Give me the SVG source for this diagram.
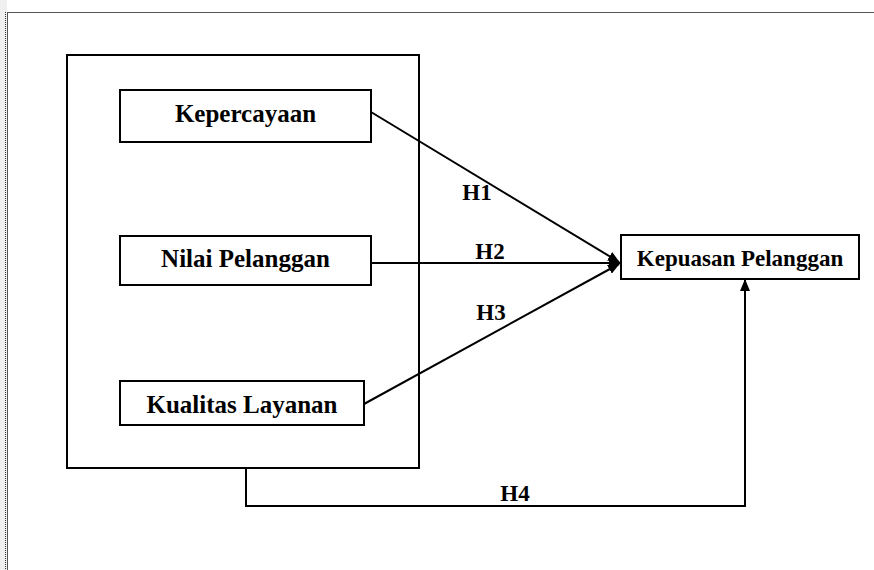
<svg xmlns="http://www.w3.org/2000/svg" width="874" height="570" viewBox="0 0 874 570">
<style>
.box{fill:#fff;stroke:#000;stroke-width:2}
.t{font-family:"Liberation Serif","Times New Roman",serif;font-weight:bold;font-size:23px;fill:#000;text-anchor:middle}
.big{font-size:25px}
.c{fill:none;stroke:#000;stroke-width:2}
</style>
<defs>
<marker id="ah" markerWidth="12" markerHeight="10" refX="11" refY="5" orient="auto" markerUnits="userSpaceOnUse">
<path d="M0,0 L12,5 L0,10 Z" fill="#000"/>
</marker>
</defs>
<rect x="0" y="0" width="874" height="570" fill="#fff"/>
<rect x="0" y="0" width="7" height="570" fill="#f0f0f0"/>
<line x1="5.5" y1="12" x2="5.5" y2="570" stroke="#333" stroke-width="1" stroke-dasharray="1,1"/>
<line x1="7.5" y1="12" x2="7.5" y2="570" stroke="#555" stroke-width="1"/>
<line x1="7" y1="12.5" x2="874" y2="12.5" stroke="#555" stroke-width="1"/>
<g id="outer"><rect class="box" x="67" y="55" width="352" height="413"/></g>
<g id="kepercayaan"><rect class="box" x="120" y="90" width="251" height="52"/><text class="t big" x="245.5" y="122">Kepercayaan</text></g>
<g id="nilai"><rect class="box" x="120" y="236" width="251" height="49"/><text class="t big" x="245.5" y="267">Nilai Pelanggan</text></g>
<g id="kualitas"><rect class="box" x="120" y="381" width="244" height="44"/><text class="t big" x="242" y="413">Kualitas Layanan</text></g>
<g id="kepuasan"><rect class="box" x="621" y="235" width="238" height="44"/><text class="t" x="740" y="266">Kepuasan Pelanggan</text></g>
<g id="connectors">
<line class="c" x1="371" y1="112" x2="619" y2="262" marker-end="url(#ah)"/>
<line class="c" x1="371" y1="263" x2="620" y2="263" marker-end="url(#ah)"/>
<line class="c" x1="364" y1="404" x2="619" y2="264" marker-end="url(#ah)"/>
<polyline class="c" points="246,468 246,506 745,506 745,280" marker-end="url(#ah)"/>
<text class="t" x="477" y="200">H1</text>
<text class="t" x="490" y="259">H2</text>
<text class="t" x="491" y="320">H3</text>
<text class="t" x="515" y="501">H4</text>
</g>
</svg>
